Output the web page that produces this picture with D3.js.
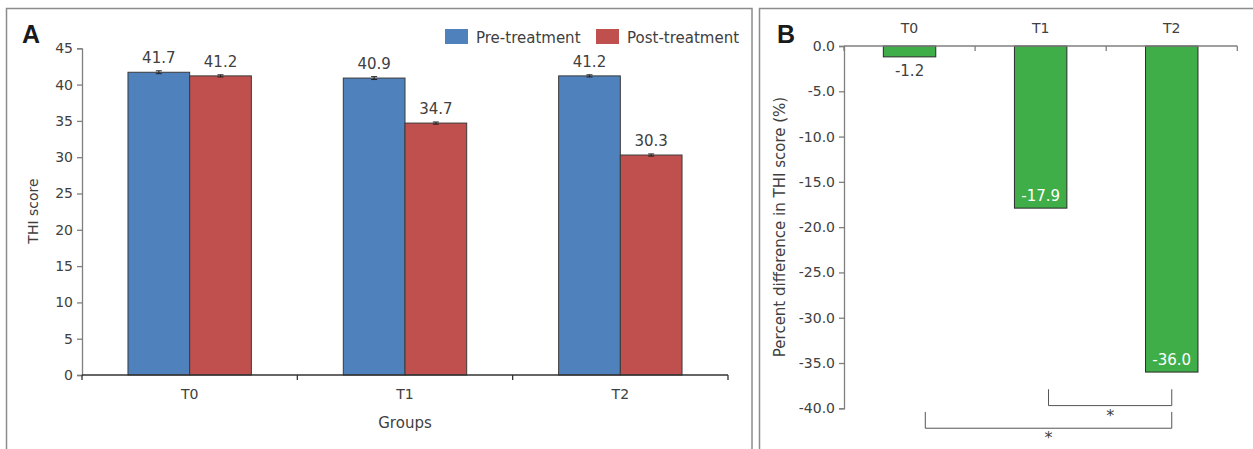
<!DOCTYPE html>
<html><head><meta charset="utf-8">
<script src="https://cdn.jsdelivr.net/npm/d3@7"></script>
<style>body{margin:0;background:#fff}svg{display:block}text{font-family:"DejaVu Sans",sans-serif}</style>
</head><body><svg id="c" width="1253" height="449"></svg>
<script>
const groups = ["T0","T1","T2"];
const series = ["Pre-treatment","Post-treatment"];
const preValues = [41.7, 40.9, 41.2];
const postValues = [41.2, 34.7, 30.3];
const preErr = [0.2, 0.2, 0.15];
const postErr = [0.15, 0.15, 0.15];
const yTicksA = [0,5,10,15,20,25,30,35,40,45];
const pctDiff = [-1.2, -17.9, -36.0];
const yTicksB = [0,-5,-10,-15,-20,-25,-30,-35,-40];
const sigPairs = [["T1","T2"],["T0","T2"]];

const colors = {"Pre-treatment":"#4F81BD","Post-treatment":"#C0504D"};
const green = "#3FAE49";
const txt = "#404040";
const axisCol = "#7f7f7f";
const svg = d3.select("#c");

// panel borders
svg.append("rect").attr("x",6.5).attr("y",8.5).attr("width",745.5).attr("height",470)
  .attr("fill","none").attr("stroke","#8c8c8c").attr("stroke-width",1.5);
svg.append("rect").attr("x",759.5).attr("y",8.5).attr("width",520).attr("height",470)
  .attr("fill","none").attr("stroke","#8c8c8c").attr("stroke-width",1.5);

// ---------- Panel A ----------
const gA = svg.append("g");
const yA = d3.scaleLinear().domain([0,45]).range([375,48.3]);
const xA = d3.scaleBand().domain(groups).range([82,728]).paddingInner(0.427).paddingOuter(0.2135);
const xSub = d3.scaleBand().domain(series).range([0,xA.bandwidth()]);

const yAxA = gA.append("g").attr("transform","translate(82,0)")
  .call(d3.axisLeft(yA).tickValues(yTicksA).tickSize(5).tickPadding(4));
yAxA.select(".domain").attr("stroke",axisCol).attr("stroke-width",1.3);
yAxA.selectAll(".tick line").attr("stroke",axisCol).attr("stroke-width",1.3);
yAxA.selectAll(".tick text").attr("fill",txt).style("font-size","14px");

const rows = groups.map((g,i)=>[
  {g, s:series[0], v:preValues[i], e:preErr[i]},
  {g, s:series[1], v:postValues[i], e:postErr[i]}]).flat();

gA.selectAll("rect.bar").data(rows).join("rect").attr("class","bar")
  .attr("x",d=>xA(d.g)+xSub(d.s)).attr("width",xSub.bandwidth())
  .attr("y",d=>yA(d.v)).attr("height",d=>yA(0)-yA(d.v))
  .attr("fill",d=>colors[d.s]).attr("stroke","#3a3a3a").attr("stroke-width",1);

// error bars
const eb = gA.selectAll("g.eb").data(rows).join("g").attr("class","eb")
  .attr("transform",d=>`translate(${xA(d.g)+xSub(d.s)+xSub.bandwidth()/2},0)`);
eb.append("line").attr("y1",d=>yA(d.v+d.e)).attr("y2",d=>yA(d.v-d.e)).attr("stroke","#222").attr("stroke-width",1);
eb.append("line").attr("x1",-3).attr("x2",3).attr("y1",d=>yA(d.v+d.e)).attr("y2",d=>yA(d.v+d.e)).attr("stroke","#222").attr("stroke-width",1);
eb.append("line").attr("x1",-3).attr("x2",3).attr("y1",d=>yA(d.v-d.e)).attr("y2",d=>yA(d.v-d.e)).attr("stroke","#222").attr("stroke-width",1);

gA.selectAll("text.val").data(rows).join("text").attr("class","val")
  .attr("x",d=>xA(d.g)+xSub(d.s)+xSub.bandwidth()/2).attr("y",d=>yA(d.v)-9)
  .attr("text-anchor","middle").attr("fill",txt).style("font-size","15px").text(d=>d.v.toFixed(1));

// x axis A
const xAxA = gA.append("g").attr("transform","translate(0,375)");
xAxA.append("line").attr("x1",82).attr("x2",728).attr("stroke","#333").attr("stroke-width",1.3);
const bA = groups.map(g=>xA(g)-xA.step()*xA.paddingInner()/2).concat([xA(groups[2])+xA.bandwidth()+xA.step()*xA.paddingInner()/2]);
xAxA.selectAll("line.bt").data(bA).join("line").attr("class","bt")
  .attr("x1",d=>d).attr("x2",d=>d).attr("y1",0).attr("y2",5).attr("stroke","#333").attr("stroke-width",1.3);
xAxA.selectAll("text").data(groups).join("text").attr("x",g=>xA(g)+xA.bandwidth()/2).attr("y",24)
  .attr("text-anchor","middle").attr("fill",txt).style("font-size","14px").text(g=>g);

gA.append("text").attr("x",405).attr("y",428).attr("text-anchor","middle").attr("fill",txt)
  .style("font-size","15px").text("Groups");
gA.append("text").attr("transform","translate(38,211) rotate(-90)").attr("text-anchor","middle")
  .attr("fill",txt).style("font-size","14px").text("THI score");
gA.append("text").attr("x",22).attr("y",43).attr("fill","#1a1a1a").style("font-size","25px")
  .style("font-weight","bold").style("font-family","Liberation Sans, Arial, sans-serif").text("A");

// legend
const lg = gA.append("g");
const legX = [445, 596];
series.forEach((s,i)=>{
  lg.append("rect").attr("x",legX[i]).attr("y",29).attr("width",23).attr("height",15).attr("fill",colors[s]);
  lg.append("text").attr("x",legX[i]+31).attr("y",42.5).attr("fill",txt).style("font-size","15px").text(s);
});

// ---------- Panel B ----------
const gB = svg.append("g");
const yB = d3.scaleLinear().domain([-40,0]).range([408.3,46]);
const xB = d3.scaleBand().domain(groups).range([844,1237.3]).paddingInner(0.6).paddingOuter(0.3);

const yAxB = gB.append("g").attr("transform","translate(844,0)")
  .call(d3.axisLeft(yB).tickValues(yTicksB).tickSize(5).tickPadding(4).tickFormat(d=>d.toFixed(1)));
yAxB.select(".domain").attr("stroke",axisCol).attr("stroke-width",1.3);
yAxB.selectAll(".tick line").attr("stroke",axisCol).attr("stroke-width",1.3);
yAxB.selectAll(".tick text").attr("fill",txt).style("font-size","14px");

const bRows = groups.map((g,i)=>({g, v:pctDiff[i]}));
gB.selectAll("rect.bar").data(bRows).join("rect").attr("class","bar")
  .attr("x",d=>xB(d.g)).attr("width",xB.bandwidth())
  .attr("y",yB(0)).attr("height",d=>yB(d.v)-yB(0))
  .attr("fill",green).attr("stroke","#2a2a2a").attr("stroke-width",1);

// top axis B
const xAxB = gB.append("g").attr("transform","translate(0,46)");
xAxB.append("line").attr("x1",844).attr("x2",1237.3).attr("stroke",axisCol).attr("stroke-width",1.3);
const bB = groups.map(g=>xB(g)-xB.step()*xB.paddingInner()/2).concat([xB(groups[2])+xB.bandwidth()+xB.step()*xB.paddingInner()/2]);
xAxB.selectAll("line.bt").data(bB).join("line").attr("class","bt")
  .attr("x1",d=>d).attr("x2",d=>d).attr("y1",0).attr("y2",5).attr("stroke",axisCol).attr("stroke-width",1.3);
xAxB.selectAll("text").data(groups).join("text").attr("x",g=>xB(g)+xB.bandwidth()/2).attr("y",-13)
  .attr("text-anchor","middle").attr("fill",txt).style("font-size","14px").text(g=>g);

gB.selectAll("text.val").data(bRows).join("text").attr("class","val")
  .attr("x",d=>xB(d.g)+xB.bandwidth()/2)
  .attr("y",d=>Math.abs(d.v)<5 ? yB(d.v)+19 : yB(d.v)-7)
  .attr("text-anchor","middle").attr("fill",d=>Math.abs(d.v)<5 ? txt : "#fff")
  .style("font-size","15px").text(d=>d.v.toFixed(1));

gB.append("text").attr("transform","translate(785,227) rotate(-90)").attr("text-anchor","middle")
  .attr("fill",txt).style("font-size","15px").text("Percent difference in THI score (%)");
gB.append("text").attr("x",777).attr("y",43).attr("fill","#1a1a1a").style("font-size","25px")
  .style("font-weight","bold").style("font-family","Liberation Sans, Arial, sans-serif").text("B");

// significance brackets
const sig = [
  {a:"T1", b:"T2", top:-37.9, bot:-39.7, aOff:0.65, bOff:0.5},
  {a:"T0", b:"T2", top:-40.4, bot:-42.2, aOff:0.8, bOff:0.5}
];
sig.forEach((s,i)=>{
  const x1 = xB(s.a)+xB.bandwidth()*s.aOff, x2 = xB(s.b)+xB.bandwidth()*s.bOff;
  gB.append("path").attr("d",`M${x1},${yB(s.top)}V${yB(s.bot)}H${x2}V${yB(s.top)}`)
    .attr("fill","none").attr("stroke","#555").attr("stroke-width",1);
  gB.append("text").attr("x",(x1+x2)/2).attr("y",yB(s.bot)+15).attr("text-anchor","middle")
    .attr("fill",txt).style("font-size","16px").text("*");
});
</script></body></html>
